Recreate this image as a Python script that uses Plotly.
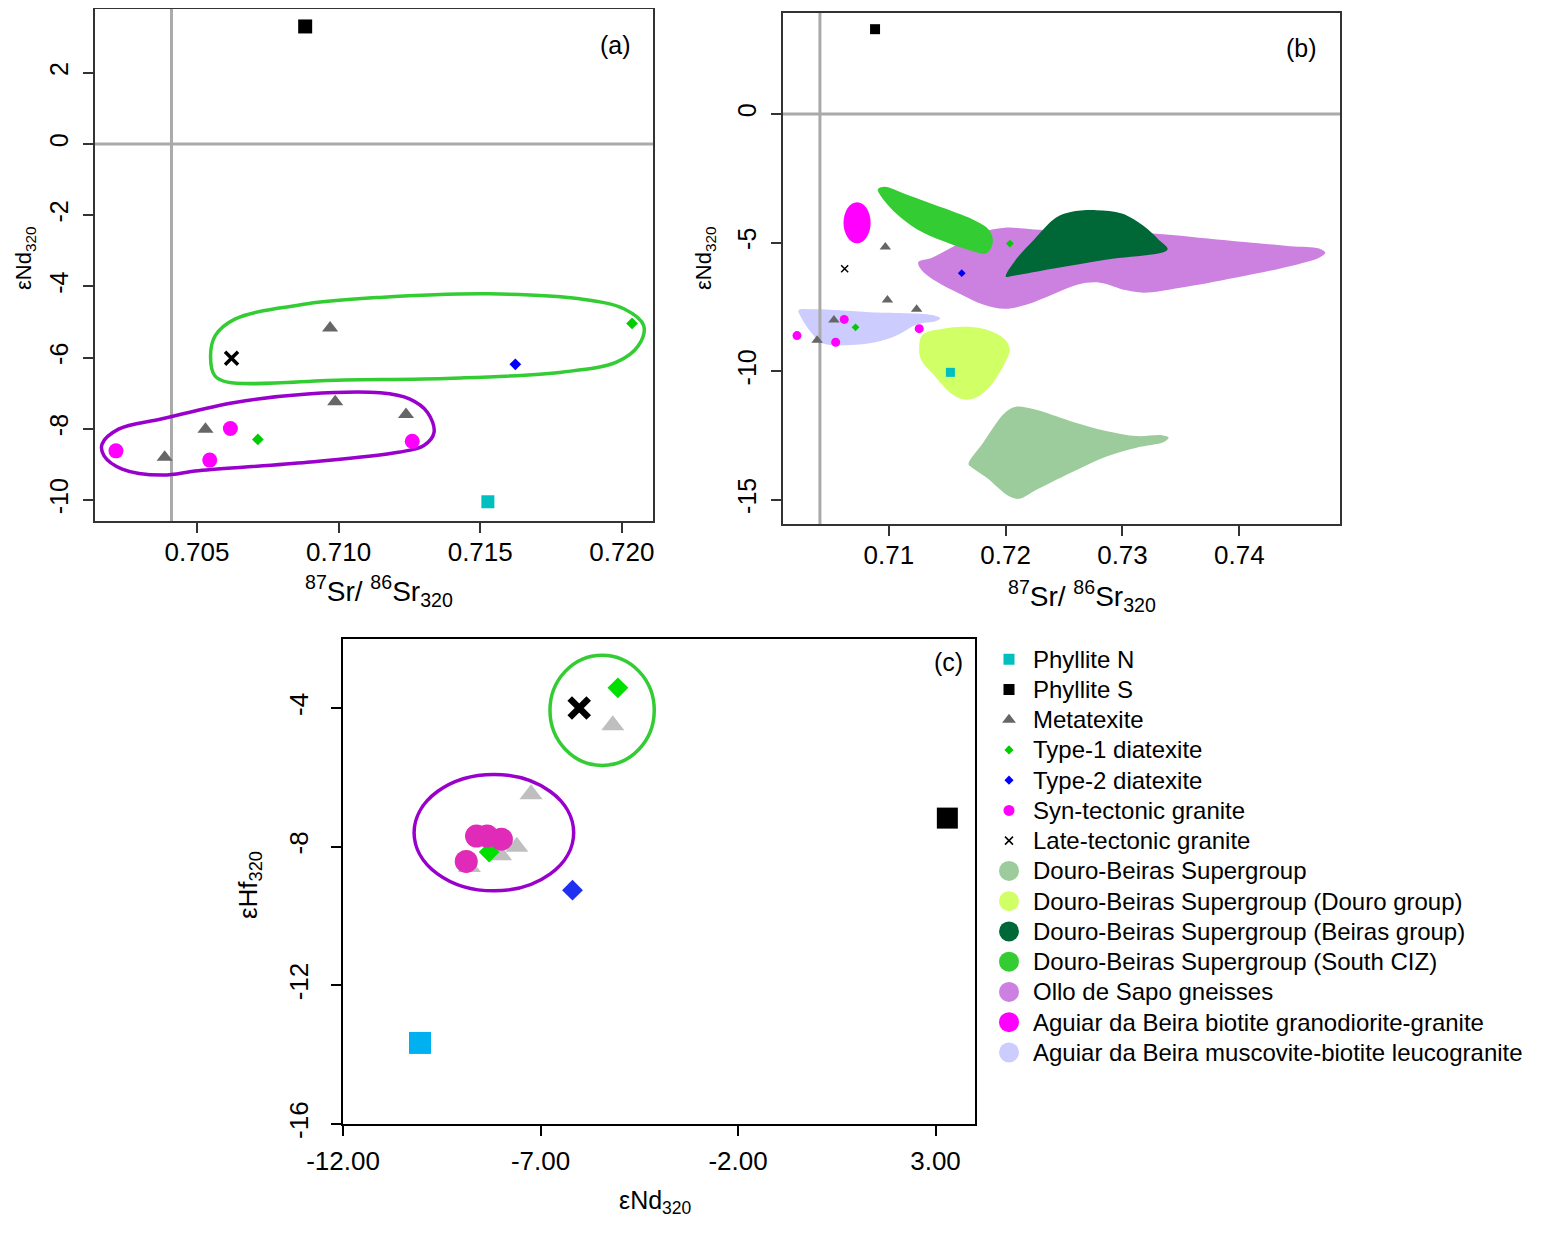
import plotly.graph_objects as go

# ---------------- sample data ----------------
# eNd(320) (shared by panels a, b, c)
nd_phyllite_n = [-10.05]
nd_phyllite_s = [3.30]
nd_metatexite = [-5.17, -7.24, -7.60, -8.01, -8.80]
nd_type1 = [-5.04, -8.30]
nd_type2 = [-6.19]
nd_syn = [-8.62, -7.99, -8.88, -8.35]
nd_late = [-6.02]

# 87Sr/86Sr(320) (panels a, b)
sr_phyllite_n = [0.71527]
sr_phyllite_s = [0.70882]
sr_metatexite = [0.70970, 0.70988, 0.71238, 0.70530, 0.70386]
sr_type1 = [0.72036, 0.70715]
sr_type2 = [0.71624]
sr_syn = [0.70214, 0.70618, 0.70545, 0.71260]
sr_late = [0.70622]

# eHf(320) (panel c)
hf_phyllite_n = [-13.66]
hf_phyllite_s = [-7.17]
hf_metatexite = [-4.49, -6.48, -8.00, -8.24, -8.58]
hf_type1 = [-3.41, -8.15]
hf_type2 = [-9.25]
hf_syn = [-7.69, -7.78, -8.42, -7.69]
hf_late = [-3.99]

# reference values
sr_bulk = 0.7041
nd_chur = 0.0

# ---------------- panel (a) group outlines ----------------
outline_green_sr = [0.70548, 0.70563, 0.70608, 0.71019, 0.71403, 0.71788, 0.71981, 0.72058,
                    0.72077, 0.72007, 0.71851, 0.71532, 0.71146, 0.70890, 0.70634, 0.70564, 0.70548]
outline_green_nd = [-5.99, -6.51, -6.69, -6.63, -6.58, -6.41, -6.13, -5.67,
                    -5.10, -4.63, -4.35, -4.21, -4.31, -4.49, -4.92, -5.39, -5.99]
outline_purple_sr = [0.70165, 0.70223, 0.70377, 0.70634, 0.70890, 0.71147, 0.71250, 0.71314,
                     0.71337, 0.71301, 0.71211, 0.70890, 0.70505, 0.70377, 0.70236, 0.70172, 0.70165]
outline_purple_nd = [-8.43, -8.01, -7.72, -7.26, -7.02, -6.99, -7.16, -7.54,
                     -8.10, -8.47, -8.66, -8.94, -9.18, -9.30, -9.13, -8.76, -8.43]

# ---------------- panel (b) reference fields ----------------
field_ollo_sr = [0.71253, 0.71369, 0.71557, 0.71775, 0.71994, 0.72244, 0.73182, 0.73808, 0.74433,
                 0.74683, 0.74736, 0.74683, 0.74433, 0.73964, 0.73495, 0.73182, 0.73026, 0.72807,
                 0.72620, 0.72401, 0.72182, 0.71994, 0.71807, 0.71619, 0.71400, 0.71275, 0.71253]
field_ollo_nd = [-5.76, -5.59, -5.14, -4.62, -4.42, -4.49, -4.62, -4.88, -5.14,
                 -5.23, -5.40, -5.59, -5.92, -6.37, -6.76, -6.95, -6.85, -6.56,
                 -6.63, -7.02, -7.41, -7.58, -7.41, -7.02, -6.50, -6.04, -5.76]
field_beiras_sr = [0.72001, 0.72088, 0.72244, 0.72432, 0.72557, 0.72776, 0.72995, 0.73182,
                   0.73308, 0.73386, 0.72870, 0.72401, 0.72057, 0.72001]
field_beiras_nd = [-6.33, -5.66, -4.88, -4.03, -3.81, -3.74, -3.87, -4.36,
                   -4.88, -5.27, -5.66, -6.02, -6.30, -6.33]
field_south_sr = [0.70906, 0.70962, 0.71150, 0.71463, 0.71744, 0.71854, 0.71891, 0.71869,
                  0.71822, 0.71744, 0.71463, 0.71244, 0.71056, 0.70931, 0.70906]
field_south_nd = [-2.93, -2.83, -3.13, -3.65, -4.16, -4.49, -4.88, -5.27,
                  -5.44, -5.37, -4.94, -4.49, -3.84, -3.19, -2.93]
field_leuco_sr = [0.70228, 0.70368, 0.70837, 0.71369, 0.71441, 0.71400, 0.71244, 0.71088,
                  0.70931, 0.70681, 0.70431, 0.70337, 0.70243, 0.70228]
field_leuco_nd = [-7.63, -7.60, -7.71, -7.82, -7.95, -8.06, -8.18, -8.57,
                  -8.83, -8.99, -8.92, -8.51, -7.86, -7.63]
field_douro_sr = [0.71260, 0.71291, 0.71463, 0.71682, 0.71869, 0.71994, 0.72035, 0.71994,
                  0.71869, 0.71744, 0.71635, 0.71525, 0.71369, 0.71275, 0.71260]
field_douro_nd = [-9.03, -8.57, -8.35, -8.28, -8.44, -8.77, -9.16, -9.68,
                  -10.58, -11.04, -11.10, -10.84, -10.07, -9.55, -9.03]
field_dbs_sr = [0.71682, 0.71807, 0.71994, 0.72088, 0.72244, 0.72557, 0.72870, 0.73120, 0.73339,
                0.73395, 0.73354, 0.73120, 0.72870, 0.72557, 0.72244, 0.72119, 0.72026, 0.71838,
                0.71713, 0.71682]
field_dbs_nd = [-13.63, -12.79, -11.62, -11.39, -11.49, -11.95, -12.34, -12.53, -12.50,
                -12.59, -12.76, -12.98, -13.31, -13.96, -14.67, -14.97, -14.86, -14.15,
                -13.76, -13.63]
# Aguiar da Beira biotite granodiorite-granite field (ellipse: centre, half-widths)
field_biotite_centre = [0.70728, -4.23]
field_biotite_radius = [0.00116, 0.80]

# ---------------- panel (c) group ellipses ----------------
ellipse_green_centre = [-5.44, -4.06]
ellipse_green_radius = [1.32, 1.59]
ellipse_purple_centre = [-8.18, -7.59]
ellipse_purple_radius = [2.02, 1.68]

# ---------------- ticks ----------------
a_xticks = [0.705, 0.710, 0.715, 0.720]
a_yticks = [-10, -8, -6, -4, -2, 0, 2]
b_xticks = [0.71, 0.72, 0.73, 0.74]
b_yticks = [-15, -10, -5, 0]
c_xticks = [-12, -7, -2, 3]
c_yticks = [-16, -12, -8, -4]

legend_labels = ["Phyllite N", "Phyllite S", "Metatexite", "Type-1 diatexite", "Type-2 diatexite",
                 "Syn-tectonic granite", "Late-tectonic granite", "Douro-Beiras Supergroup",
                 "Douro-Beiras Supergroup (Douro group)", "Douro-Beiras Supergroup (Beiras group)",
                 "Douro-Beiras Supergroup (South CIZ)", "Ollo de Sapo gneisses",
                 "Aguiar da Beira biotite granodiorite-granite",
                 "Aguiar da Beira muscovite-biotite leucogranite"]

# ---------------- styling ----------------
FONT = "Liberation Sans, Arial, Helvetica, sans-serif"
W, H = 1541, 1233          # browser window
PAGE = 8                   # default body margin of the html page
FW, FH = W - 2 * PAGE, H - 2 * PAGE

C_TEAL = "#00BFBF"
C_META = "#666666"
C_T1 = "#00CC00"
C_T2 = "#0000FF"
C_SYN = "#FF00FF"
C_DBS = "#9CCC9C"
C_DOURO = "#D0FF66"
C_BEIRAS = "#006837"
C_SOUTH = "#33CC33"
C_OLLO = "#CC80E0"
C_BIOT = "#FF00FF"
C_LEUCO = "#CCCCFF"
C_OUT_G = "#33CC33"
C_OUT_P = "#9900CC"


def fx(px):
    return min(max((px - PAGE) / FW, 0), 1)


def fy(py):
    return min(max(1 - (py - PAGE) / FH, 0), 1)


def dom_x(left, right):
    return [fx(left), fx(right)]


def dom_y(top, bottom):
    return [fy(bottom), fy(top)]


fig = go.Figure()


def pts(x, y, xa, ya, symbol, size, color, lw=0, lcolor=None):
    marker = dict(symbol=symbol, size=size, color=color, opacity=1,
                  line=dict(width=lw, color=lcolor if lcolor else color))
    fig.add_trace(go.Scatter(x=x, y=y, xaxis=xa, yaxis=ya, mode="markers",
                             marker=marker, showlegend=False, hoverinfo="skip"))


def ref_lines(xa, ya, xr, yr):
    fig.add_trace(go.Scatter(x=[sr_bulk, sr_bulk], y=yr, xaxis=xa, yaxis=ya, mode="lines",
                             line=dict(color="#AAAAAA", width=3), showlegend=False, hoverinfo="skip"))
    fig.add_trace(go.Scatter(x=xr, y=[nd_chur, nd_chur], xaxis=xa, yaxis=ya, mode="lines",
                             line=dict(color="#AAAAAA", width=3), showlegend=False, hoverinfo="skip"))


def field(x, y, color):
    fig.add_trace(go.Scatter(x=x, y=y, xaxis="x2", yaxis="y2", mode="lines", fill="toself",
                             fillcolor=color, line=dict(width=0, color=color, shape="spline"),
                             showlegend=False, hoverinfo="skip"))


A_XR = [0.7014, 0.7211]
A_YR = [-10.59, 3.79]
B_XR = [0.70094, 0.74862]
B_YR = [-15.95, 3.93]
C_XR = [-12, 4]
C_YR = [-16, -2]

# ---- panel (a) ----
ref_lines("x", "y", A_XR, A_YR)
for xs, ys, col in [(outline_green_sr, outline_green_nd, C_OUT_G),
                    (outline_purple_sr, outline_purple_nd, C_OUT_P)]:
    fig.add_trace(go.Scatter(x=xs, y=ys, xaxis="x", yaxis="y", mode="lines",
                             line=dict(color=col, width=3.5, shape="spline"),
                             showlegend=False, hoverinfo="skip"))
pts(sr_phyllite_n, nd_phyllite_n, "x", "y", "square", 13, C_TEAL)
pts(sr_phyllite_s, nd_phyllite_s, "x", "y", "square", 14, "black")
pts(sr_metatexite, nd_metatexite, "x", "y", "triangle-up", 14, C_META)
pts(sr_type1, nd_type1, "x", "y", "diamond", 9, C_T1)
pts(sr_type2, nd_type2, "x", "y", "diamond", 9, C_T2)
pts(sr_syn, nd_syn, "x", "y", "circle", 15, C_SYN)
pts(sr_late, nd_late, "x", "y", "x-thin", 13, "black", 3.5, "black")

# ---- panel (b) ----
field(field_ollo_sr, field_ollo_nd, C_OLLO)
field(field_beiras_sr, field_beiras_nd, C_BEIRAS)
field(field_south_sr, field_south_nd, C_SOUTH)
field(field_leuco_sr, field_leuco_nd, C_LEUCO)
field(field_douro_sr, field_douro_nd, C_DOURO)
field(field_dbs_sr, field_dbs_nd, C_DBS)
ref_lines("x2", "y2", B_XR, B_YR)
pts(sr_phyllite_n, nd_phyllite_n, "x2", "y2", "square", 9, C_TEAL)
pts(sr_phyllite_s, nd_phyllite_s, "x2", "y2", "square", 10, "black")
pts(sr_metatexite, nd_metatexite, "x2", "y2", "triangle-up", 10, C_META)
pts(sr_type1, nd_type1, "x2", "y2", "diamond", 6, C_T1)
pts(sr_type2, nd_type2, "x2", "y2", "diamond", 6, C_T2)
pts(sr_syn, nd_syn, "x2", "y2", "circle", 9, C_SYN)
pts(sr_late, nd_late, "x2", "y2", "x-thin", 7, "black", 1.5, "black")

# ---- panel (c) ----
pts(nd_phyllite_n, hf_phyllite_n, "x3", "y3", "square", 22, "#00B0F0")
pts(nd_phyllite_s, hf_phyllite_s, "x3", "y3", "square", 21, "black")
pts(nd_metatexite, hf_metatexite, "x3", "y3", "triangle-up", 20, "#BFBFBF")
pts(nd_type1, hf_type1, "x3", "y3", "diamond", 16, "#00E000")
pts(nd_type2, hf_type2, "x3", "y3", "diamond", 16, "#2030F0")
pts(nd_syn, hf_syn, "x3", "y3", "circle", 23, "#E02AB8")
pts(nd_late, hf_late, "x3", "y3", "x-thin", 19, "black", 6.5, "black")

# ---- legend (drawn on a hidden axis) ----
leg_rows = list(range(len(legend_labels)))
leg_styles = [("square", 11, C_TEAL, 0), ("square", 11, "black", 0), ("triangle-up", 12, C_META, 0),
              ("diamond", 7, C_T1, 0), ("diamond", 7, C_T2, 0), ("circle", 11, C_SYN, 0),
              ("x-thin", 8, "black", 1.5), ("circle", 20, C_DBS, 0), ("circle", 20, C_DOURO, 0),
              ("circle", 20, C_BEIRAS, 0), ("circle", 20, C_SOUTH, 0), ("circle", 20, C_OLLO, 0),
              ("circle", 20, C_BIOT, 0), ("circle", 20, C_LEUCO, 0)]
fig.add_trace(go.Scatter(
    x=[14] * len(leg_rows), y=leg_rows, xaxis="x4", yaxis="y4", mode="markers",
    marker=dict(symbol=[s[0] for s in leg_styles], size=[s[1] for s in leg_styles],
                color=[s[2] for s in leg_styles], opacity=1,
                line=dict(width=[s[3] for s in leg_styles], color=[s[2] for s in leg_styles])),
    showlegend=False, hoverinfo="skip"))

annotations = []
for i, lab in enumerate(legend_labels):
    annotations.append(dict(x=36, y=i, xref="x4", yref="y4", text=lab, showarrow=False,
                            xanchor="left", yanchor="middle",
                            font=dict(family=FONT, size=24, color="black")))


def pann(px, py, text, size, angle=0, yanchor="middle", xanchor="center"):
    annotations.append(dict(x=fx(px), y=fy(py), xref="paper", yref="paper", text=text,
                            showarrow=False, xanchor=xanchor, yanchor=yanchor, textangle=angle,
                            font=dict(family=FONT, size=size, color="black")))


sr_title = "<sup>87</sup>Sr/ <sup>86</sup>Sr<sub>320</sub>"
pann(379, 569, sr_title, 28, yanchor="top")
pann(1082, 574, sr_title, 28, yanchor="top")
pann(25, 258, "εNd<sub>320</sub>", 22, -90)
pann(705, 258, "εNd<sub>320</sub>", 22, -90)
pann(655, 1202, "εNd<sub>320</sub>", 25)
pann(249, 885, "εHf<sub>320</sub>", 26, -90)
pann(615, 45, "(a)", 25)
pann(1301, 48, "(b)", 25)
pann(948, 662, "(c)", 25)

# ---- shapes: ellipses ----
shapes = []


def ellipse(centre, radius, xref, yref, line_col=None, fill_col=None, width=0):
    shapes.append(dict(type="circle", xref=xref, yref=yref,
                       x0=centre[0] - radius[0], x1=centre[0] + radius[0],
                       y0=centre[1] - radius[1], y1=centre[1] + radius[1],
                       line=dict(color=line_col if line_col else "rgba(0,0,0,0)", width=width),
                       fillcolor=fill_col if fill_col else "rgba(0,0,0,0)", layer="below"))


ellipse(field_biotite_centre, field_biotite_radius, "x2", "y2", fill_col=C_BIOT)
ellipse(ellipse_green_centre, ellipse_green_radius, "x3", "y3", line_col=C_OUT_G, width=3.5)
ellipse(ellipse_purple_centre, ellipse_purple_radius, "x3", "y3", line_col=C_OUT_P, width=3.5)


def xax(domain, rng, tickvals, ticktext, anchor, lc, fsize=26, standoff=-3):
    return dict(domain=domain, range=rng, tickvals=tickvals, ticktext=ticktext, anchor=anchor,
                showgrid=False, zeroline=False, showline=True, mirror=True, linecolor=lc,
                linewidth=1.5, ticks="outside", ticklen=10, tickwidth=1.5, tickcolor=lc,
                tickfont=dict(family=FONT, size=fsize, color="black"),
                ticklabelstandoff=standoff, automargin=False)


def yax(domain, rng, tickvals, ticktext, anchor, lc, fsize=25, standoff=5):
    return dict(domain=domain, range=rng, tickvals=tickvals, ticktext=ticktext, anchor=anchor,
                showgrid=False, zeroline=False, showline=True, mirror=True, linecolor=lc,
                linewidth=1.5, ticks="outside", ticklen=10, tickwidth=1.5, tickcolor=lc,
                tickfont=dict(family=FONT, size=fsize, color="black"), tickangle=-90,
                ticklabelstandoff=standoff, automargin=False)


LEG_LEFT, LEG_RIGHT = 995, W - PAGE
fig.update_layout(
    template="none",
    width=FW, height=FH, margin=dict(l=0, r=0, t=0, b=0, pad=0, autoexpand=False),
    paper_bgcolor="white", plot_bgcolor="white", showlegend=False,
    font=dict(family=FONT, color="black"),
    xaxis=xax(dom_x(95, 653), A_XR, a_xticks, [f"{v:.3f}" for v in a_xticks], "y", "#333333"),
    yaxis=yax(dom_y(9, 521), A_YR, a_yticks, [str(v) for v in a_yticks], "x", "#333333"),
    xaxis2=xax(dom_x(783, 1340), B_XR, b_xticks, [f"{v:.2f}" for v in b_xticks], "y2", "#333333"),
    yaxis2=yax(dom_y(13, 524), B_YR, b_yticks, [str(v) for v in b_yticks], "x2", "#333333"),
    xaxis3=xax(dom_x(343, 975), C_XR, c_xticks, [f"{v:.2f}" for v in c_xticks], "y3", "black",
               fsize=26, standoff=3),
    yaxis3=yax(dom_y(639, 1124), C_YR, c_yticks, [str(v) for v in c_yticks], "x3", "black",
               fsize=26, standoff=13),
    xaxis4=dict(domain=dom_x(LEG_LEFT, LEG_RIGHT), range=[0, LEG_RIGHT - LEG_LEFT], visible=False,
                anchor="y4", automargin=False),
    yaxis4=dict(domain=dom_y(644, 1067.5), range=[13.5, -0.5], visible=False, anchor="x4",
                automargin=False),
    annotations=annotations, shapes=shapes,
)

fig.write_html("out.html")
